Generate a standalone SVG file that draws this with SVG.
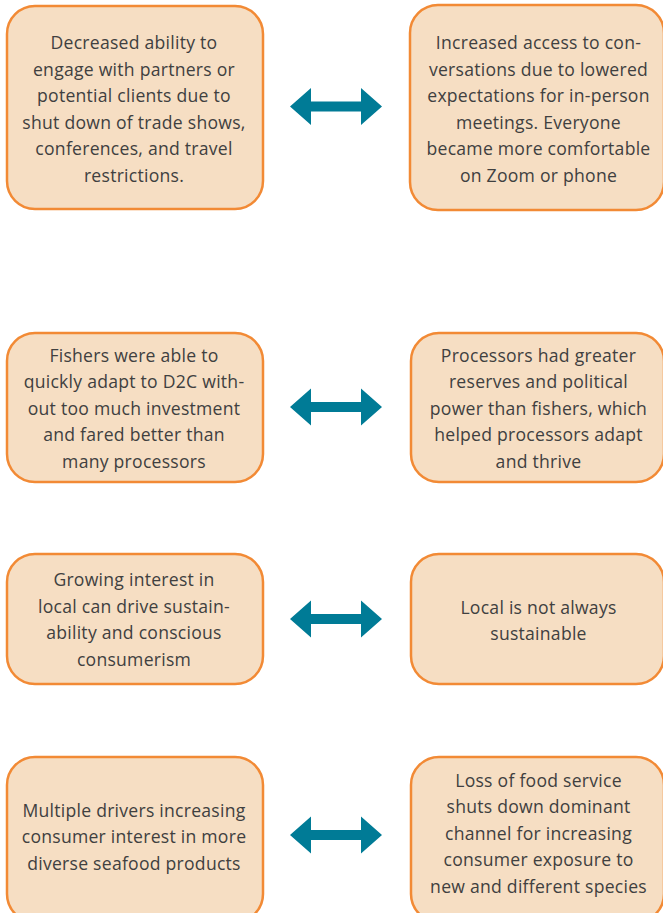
<svg xmlns="http://www.w3.org/2000/svg" xmlns:xlink="http://www.w3.org/1999/xlink" width="663" height="913" viewBox="0 0 663 913">
<style>
.box{fill:#f6dec3;stroke:#f28a35;stroke-width:2.5}
.t{font-family:"Open Sans",Lato,"Liberation Sans",sans-serif;font-size:17.6px;letter-spacing:0.25px;fill:#404040;text-anchor:middle}
.arr{fill:#007b96}
</style>
<defs>
<path id="dbl" d="M-46,0 L-25,-18.5 L-25,-5 L25,-5 L25,-18.5 L46,0 L25,18.5 L25,5 L-25,5 L-25,18.5 Z"/>
</defs>
<rect width="663" height="913" fill="#ffffff"/>
<g id="n1">
<rect class="box" x="7" y="6" width="256" height="203" rx="28"/>
<text class="t"><tspan x="134" y="49">Decreased ability to</tspan><tspan x="134" y="75.5">engage with partners or</tspan><tspan x="134" y="102">potential clients due to</tspan><tspan x="134" y="128.5">shut down of trade shows,</tspan><tspan x="134" y="155">conferences, and travel</tspan><tspan x="134" y="181.5">restrictions.</tspan></text>
</g>
<g id="n2">
<rect class="box" x="410" y="5" width="254" height="205" rx="28"/>
<text class="t"><tspan x="538.5" y="49">Increased access to con-</tspan><tspan x="538.5" y="75.5">versations due to lowered</tspan><tspan x="538.5" y="102">expectations for in-person</tspan><tspan x="538.5" y="128.5">meetings. Everyone</tspan><tspan x="538.5" y="155">became more comfortable</tspan><tspan x="538.5" y="181.5">on Zoom or phone</tspan></text>
</g>
<g id="n3">
<rect class="box" x="7" y="333" width="256" height="149" rx="28"/>
<text class="t"><tspan x="134" y="361.5">Fishers were able to</tspan><tspan x="134" y="388">quickly adapt to D2C with-</tspan><tspan x="134" y="414.5">out too much investment</tspan><tspan x="134" y="441">and fared better than</tspan><tspan x="134" y="467.5">many processors</tspan></text>
</g>
<g id="n4">
<rect class="box" x="411" y="333" width="253" height="149" rx="28"/>
<text class="t"><tspan x="538.5" y="361.5">Processors had greater</tspan><tspan x="538.5" y="388">reserves and political</tspan><tspan x="538.5" y="414.5">power than fishers, which</tspan><tspan x="538.5" y="441">helped processors adapt</tspan><tspan x="538.5" y="467.5">and thrive</tspan></text>
</g>
<g id="n5">
<rect class="box" x="7" y="554" width="256" height="130" rx="28"/>
<text class="t"><tspan x="134" y="586">Growing interest in</tspan><tspan x="134" y="612.5">local can drive sustain-</tspan><tspan x="134" y="639">ability and conscious</tspan><tspan x="134" y="665.5">consumerism</tspan></text>
</g>
<g id="n6">
<rect class="box" x="411" y="554" width="253" height="130" rx="28"/>
<text class="t"><tspan x="538.5" y="613.5">Local is not always</tspan><tspan x="538.5" y="640">sustainable</tspan></text>
</g>
<g id="n7">
<rect class="box" x="7" y="757" width="256" height="165" rx="28"/>
<text class="t"><tspan x="134" y="816.5">Multiple drivers increasing</tspan><tspan x="134" y="843">consumer interest in more</tspan><tspan x="134" y="869.5">diverse seafood products</tspan></text>
</g>
<g id="n8">
<rect class="box" x="411" y="757" width="253" height="165" rx="28"/>
<text class="t"><tspan x="538.5" y="786.5">Loss of food service</tspan><tspan x="538.5" y="813">shuts down dominant</tspan><tspan x="538.5" y="839.5">channel for increasing</tspan><tspan x="538.5" y="866">consumer exposure to</tspan><tspan x="538.5" y="892.5">new and different species</tspan></text>
</g>
<g id="connectors">
<use xlink:href="#dbl" class="arr" transform="translate(336,106.5)"/>
<use xlink:href="#dbl" class="arr" transform="translate(336,407)"/>
<use xlink:href="#dbl" class="arr" transform="translate(336,619)"/>
<use xlink:href="#dbl" class="arr" transform="translate(336,835)"/>
</g>
</svg>
